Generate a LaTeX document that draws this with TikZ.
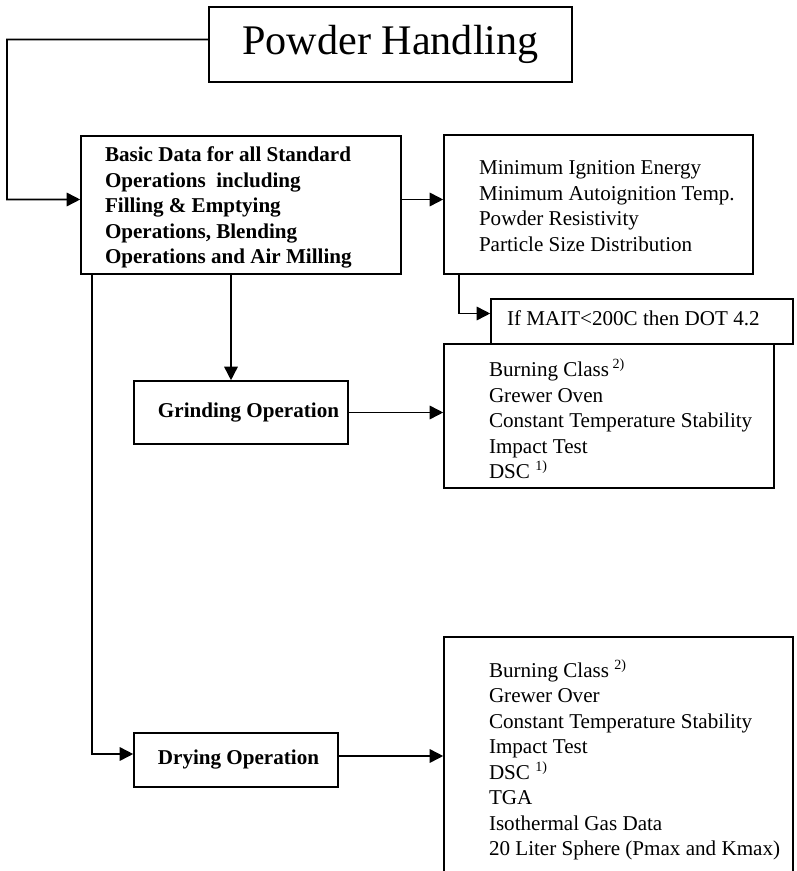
\documentclass[tikz,border=0pt]{standalone}
\usepackage{fontspec}
\setmainfont{Liberation Serif}
\usetikzlibrary{arrows.meta, positioning}

\begin{document}
\begin{tikzpicture}[>={Triangle[length=2.7mm, width=2.7mm]}, line width=0.9pt,
    every node/.style={font=\fontsize{12pt}{14.5pt}\selectfont},
    bold/.style={font=\fontsize{12pt}{14.5pt}\selectfont\bfseries},
    box/.style={draw, inner sep=0pt},
    txt/.style={align=left, inner sep=0pt, anchor=west}]
  \useasboundingbox (0,0) rectangle (15.92,-17.42);
  \clip (0,0) rectangle (15.92,-17.42);
  \node[box, minimum width=7.26cm, minimum height=1.50cm, font=\fontsize{24pt}{28pt}\selectfont] (title) at (7.81,-0.89) {Powder Handling};
  \node[box, minimum width=6.40cm, minimum height=2.76cm] (main) at (4.82,-4.10) {};
  \node[box, minimum width=6.18cm, minimum height=2.78cm] (ignition) at (11.97,-4.09) {};
  \node[box, minimum width=6.04cm, minimum height=0.90cm] (mait) at (12.84,-6.43) {};
  \node[box, minimum width=6.60cm, minimum height=2.88cm] (grindTests) at (12.18,-8.32) {};
  \node[box, bold, minimum width=4.28cm, minimum height=1.26cm] (grinding) at (4.82,-8.25) {\hspace*{0.3cm}Grinding Operation};
  \node[box, bold, minimum width=4.08cm, minimum height=1.08cm] (drying) at (4.72,-15.20) {\hspace*{0.1cm}\raisebox{-0.9mm}{Drying Operation}};
  \node[box, minimum width=6.98cm, minimum height=5.50cm] (dryTests) at (12.37,-15.49) {};
  % box contents
  \node[txt, bold] (mainText) at ([xshift=4.8mm, yshift=-0.5mm]main.west)
    {Basic Data for all Standard\\Operations\ \ including\\Filling \& Emptying\\Operations, Blending\\Operations and Air Milling};
  \node[txt] (ignitionText) at ([xshift=7mm, yshift=-0.3mm]ignition.west)
    {Minimum Ignition Energy\\Minimum Autoignition Temp.\\Powder Resistivity\\Particle Size Distribution};
  \node[txt] (maitText) at ([xshift=3.2mm, yshift=0.6mm]mait.west) {If MAIT<200C then DOT 4.2};
  \node[txt] (grindTestsText) at ([xshift=9mm, yshift=-0.6mm]grindTests.west)
    {Burning Class\,\textsuperscript{2)}\\Grewer Oven\\Constant Temperature Stability\\Impact Test\\DSC \textsuperscript{1)}};
  \node[txt, anchor=north west] (dryTestsText) at ([xshift=9mm, yshift=-4.6mm]dryTests.north west)
    {Burning Class \textsuperscript{2)}\\Grewer Over\\Constant Temperature Stability\\Impact Test\\DSC \textsuperscript{1)}\\TGA\\Isothermal Gas Data\\20 Liter Sphere (Pmax and Kmax)};
  % connectors
  \coordinate (rail) at (0.14,-3.99);
  \draw[->] ([yshift=1mm]title.west) -| (rail) -- ([yshift=1.1mm]main.west);
  \draw[->] ([yshift=1.1mm]main.east) -- ([yshift=1.1mm]main.east -| ignition.west);
  \draw[->] ([xshift=3.2mm]ignition.south west) |- ([yshift=1.6mm]mait.west);
  \draw[->] ([xshift=-2mm]main.south) -- ([xshift=-2mm]main.south |- grinding.north);
  \draw[->] (grinding.east) -- (grinding.east -| grindTests.west);
  \draw[->] ([xshift=-2.98cm]main.south) |- ([yshift=1.2mm]drying.west);
  \draw[->] ([yshift=0.8mm]drying.east) -- ([yshift=0.8mm]drying.east -| dryTests.west);
\end{tikzpicture}
\end{document}
